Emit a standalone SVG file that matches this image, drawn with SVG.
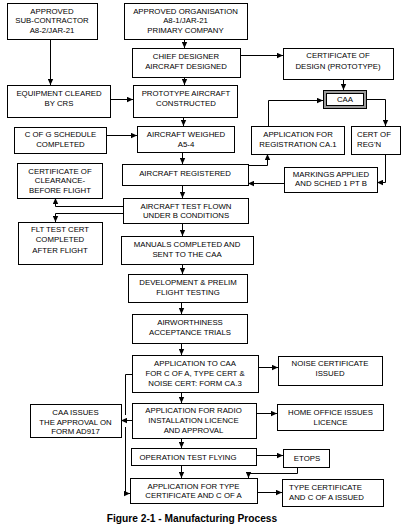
<svg xmlns="http://www.w3.org/2000/svg" width="403" height="532" viewBox="0 0 403 532">
<style>
.b{fill:#fff;stroke:#000;stroke-width:1}
.t{font-family:"Liberation Sans",Arial,sans-serif;font-size:7.8px;fill:#000;text-anchor:middle}
.l{text-anchor:start}
.c{fill:none;stroke:#000;stroke-width:1}
.cap{font-family:"Liberation Sans",Arial,sans-serif;font-size:10.2px;font-weight:bold;fill:#000;text-anchor:middle}
</style>
<defs>
<marker id="a" viewBox="0 0 6 6" refX="6" refY="3" markerWidth="6" markerHeight="6" markerUnits="userSpaceOnUse" orient="auto">
<path d="M0,0.3 L6,3 L0,5.7 Z" fill="#000"/>
</marker>
</defs>
<rect width="403" height="532" fill="#fff"/>
<g id="connectors">
<path class="c" d="M50.5,40 V85" marker-end="url(#a)"/>
<path class="c" d="M184.5,39 V48" marker-end="url(#a)"/>
<path class="c" d="M240,55.5 H283" marker-end="url(#a)"/>
<path class="c" d="M343.5,79 V90" marker-end="url(#a)"/>
<path class="c" d="M184.5,77 V85" marker-end="url(#a)"/>
<path class="c" d="M110,99.5 H133" marker-end="url(#a)"/>
<path class="c" d="M183.5,117 V126" marker-end="url(#a)"/>
<path class="c" d="M106,135.5 H137" marker-end="url(#a)"/>
<path class="c" d="M182.5,152 V164" marker-end="url(#a)"/>
<path class="c" d="M248,165.5 H267.5 V154" marker-end="url(#a)"/>
<path class="c" d="M268.5,126 V100.5 H323" marker-end="url(#a)"/>
<path class="c" d="M367,99.5 H385.5 V126" marker-end="url(#a)"/>
<path class="c" d="M385.5,154 V182.5 H377" marker-end="url(#a)"/>
<path class="c" d="M284,183.5 H248" marker-end="url(#a)"/>
<path class="c" d="M182.5,185 V198" marker-end="url(#a)"/>
<path class="c" d="M123,206.5 H55.5 V198" marker-end="url(#a)"/>
<path class="c" d="M123,213.5 H55.5 V222" marker-end="url(#a)"/>
<path class="c" d="M182.5,223 V236" marker-end="url(#a)"/>
<path class="c" d="M182.5,264 V274" marker-end="url(#a)"/>
<path class="c" d="M181.5,302 V314" marker-end="url(#a)"/>
<path class="c" d="M181.5,343 V355" marker-end="url(#a)"/>
<path class="c" d="M258,367.5 H278" marker-end="url(#a)"/>
<path class="c" d="M181.5,392 V403" marker-end="url(#a)"/>
<path class="c" d="M256,413.5 H277" marker-end="url(#a)"/>
<path class="c" d="M181.5,438 V448" marker-end="url(#a)"/>
<path class="c" d="M256,455.5 H283" marker-end="url(#a)"/>
<path class="c" d="M297.5,467 V473.5 H248.5 V478" marker-end="url(#a)"/>
<path class="c" d="M181.5,465 V478" marker-end="url(#a)"/>
<path class="c" d="M257,492.5 H282" marker-end="url(#a)"/>
<path class="c" d="M132,374.5 H125.5 V415"/>
<path class="c" d="M132,420.5 H121" marker-end="url(#a)"/>
<path class="c" d="M125.5,427 V493.5 H130" marker-end="url(#a)"/>
</g>
<g id="subcontractor"><rect class="b" x="7.5" y="3.5" width="90" height="36"/>
<text class="t" x="52" y="14">APPROVED</text><text class="t" x="52" y="23">SUB-CONTRACTOR</text><text class="t" x="52" y="33">A8-2/JAR-21</text></g>
<g id="organisation"><rect class="b" x="124.5" y="3.5" width="123" height="36"/>
<text class="t" x="185.5" y="14">APPROVED ORGANISATION</text><text class="t" x="185.5" y="23">A8-1/JAR-21</text><text class="t" x="185.5" y="33">PRIMARY COMPANY</text></g>
<g id="chief"><rect class="b" x="132.5" y="48.5" width="108" height="29"/>
<text class="t" x="186" y="59">CHIEF DESIGNER</text><text class="t" x="186" y="69">AIRCRAFT DESIGNED</text></g>
<g id="certdesign"><rect class="b" x="283.5" y="48.5" width="110" height="31"/>
<text class="t" x="338" y="58">CERTIFICATE OF</text><text class="t" x="338" y="69">DESIGN (PROTOTYPE)</text></g>
<g id="caa"><rect x="323.5" y="90.5" width="43" height="18" fill="#9a9a9a" stroke="#000"/><rect x="326.5" y="93.5" width="37" height="12" fill="#fff" stroke="#000"/>
<text class="t" x="345" y="102">CAA</text></g>
<g id="equipment"><rect class="b" x="7.5" y="85.5" width="103" height="32"/>
<text class="t" x="59" y="96">EQUIPMENT CLEARED</text><text class="t" x="59" y="106">BY CRS</text></g>
<g id="prototype"><rect class="b" x="133.5" y="85.5" width="104" height="32"/>
<text class="t" x="186" y="96">PROTOTYPE AIRCRAFT</text><text class="t" x="186" y="106">CONSTRUCTED</text></g>
<g id="cofg"><rect class="b" x="14.5" y="127.5" width="92" height="26"/>
<text class="t" x="60.5" y="137">C OF G SCHEDULE</text><text class="t" x="60.5" y="147">COMPLETED</text></g>
<g id="weighed"><rect class="b" x="137.5" y="126.5" width="97" height="26"/>
<text class="t" x="186" y="137">AIRCRAFT WEIGHED</text><text class="t" x="186" y="147">A5-4</text></g>
<g id="appreg"><rect class="b" x="251.5" y="126.5" width="93" height="28"/>
<text class="t" x="298" y="137">APPLICATION FOR</text><text class="t" x="298" y="147">REGISTRATION CA.1</text></g>
<g id="certreg"><rect class="b" x="351.5" y="126.5" width="49" height="28"/>
<text class="t l" x="357" y="137">CERT OF</text><text class="t l" x="357" y="147">REG'N</text></g>
<g id="clearance"><rect class="b" x="17.5" y="163.5" width="85" height="35"/>
<text class="t" x="60" y="174">CERTIFICATE OF</text><text class="t" x="60" y="183">CLEARANCE-</text><text class="t" x="60" y="193">BEFORE FLIGHT</text></g>
<g id="registered"><rect class="b" x="122.5" y="164.5" width="126" height="21"/>
<text class="t" x="185" y="176">AIRCRAFT REGISTERED</text></g>
<g id="markings"><rect class="b" x="284.5" y="167.5" width="93" height="25"/>
<text class="t" x="331" y="177">MARKINGS APPLIED</text><text class="t" x="331" y="186">AND SCHED 1 PT B</text></g>
<g id="testflown"><rect class="b" x="123.5" y="198.5" width="125" height="25"/>
<text class="t" x="186" y="209">AIRCRAFT TEST FLOWN</text><text class="t" x="186" y="218">UNDER B CONDITIONS</text></g>
<g id="flttest"><rect class="b" x="18.5" y="222.5" width="84" height="42"/>
<text class="t" x="60" y="232">FLT TEST CERT</text><text class="t" x="60" y="242">COMPLETED</text><text class="t" x="60" y="253">AFTER FLIGHT</text></g>
<g id="manuals"><rect class="b" x="121.5" y="236.5" width="132" height="28"/>
<text class="t" x="187" y="247">MANUALS COMPLETED AND</text><text class="t" x="187" y="257">SENT TO THE CAA</text></g>
<g id="development"><rect class="b" x="128.5" y="274.5" width="119" height="28"/>
<text class="t" x="188" y="285">DEVELOPMENT &amp; PRELIM</text><text class="t" x="188" y="295">FLIGHT TESTING</text></g>
<g id="airworthiness"><rect class="b" x="132.5" y="314.5" width="115" height="29"/>
<text class="t" x="190" y="325">AIRWORTHINESS</text><text class="t" x="190" y="335">ACCEPTANCE TRIALS</text></g>
<g id="appcaa"><rect class="b" x="132.5" y="355.5" width="126" height="37"/>
<text class="t" x="195" y="366">APPLICATION TO CAA</text><text class="t" x="195" y="376">FOR C OF A, TYPE CERT &amp;</text><text class="t" x="195" y="386">NOISE CERT:  FORM CA.3</text></g>
<g id="noise"><rect class="b" x="278.5" y="356.5" width="104" height="29"/>
<text class="t" x="330" y="366">NOISE CERTIFICATE</text><text class="t" x="330" y="376">ISSUED</text></g>
<g id="caaissues"><rect class="b" x="30.5" y="404.5" width="91" height="33"/>
<text class="t" x="75.5" y="415">CAA ISSUES</text><text class="t" x="75.5" y="425">THE APPROVAL ON</text><text class="t" x="75.5" y="434">FORM AD917</text></g>
<g id="radio"><rect class="b" x="132.5" y="403.5" width="124" height="35"/>
<text class="t" x="193.5" y="413">APPLICATION FOR RADIO</text><text class="t" x="193.5" y="423">INSTALLATION LICENCE</text><text class="t" x="193.5" y="433">AND APPROVAL</text></g>
<g id="homeoffice"><rect class="b" x="277.5" y="404.5" width="106" height="26"/>
<text class="t" x="330.5" y="415">HOME OFFICE ISSUES</text><text class="t" x="330.5" y="425">LICENCE</text></g>
<g id="optest"><rect class="b" x="131.5" y="448.5" width="125" height="17"/>
<text class="t" x="188" y="460">OPERATION TEST FLYING</text></g>
<g id="etops"><rect class="b" x="283.5" y="449.5" width="46" height="18"/>
<text class="t" x="307" y="461">ETOPS</text></g>
<g id="apptype"><rect class="b" x="130.5" y="478.5" width="127" height="25"/>
<text class="t" x="193.5" y="489">APPLICATION FOR TYPE</text><text class="t" x="193.5" y="498">CERTIFICATE AND C OF A</text></g>
<g id="typeissued"><rect class="b" x="282.5" y="479.5" width="101" height="27"/>
<text class="t l" x="289" y="490">TYPE CERTIFICATE</text><text class="t l" x="289" y="500">AND C OF A ISSUED</text></g>
<text class="cap" x="192" y="522">Figure 2-1 - Manufacturing Process</text>
</svg>
